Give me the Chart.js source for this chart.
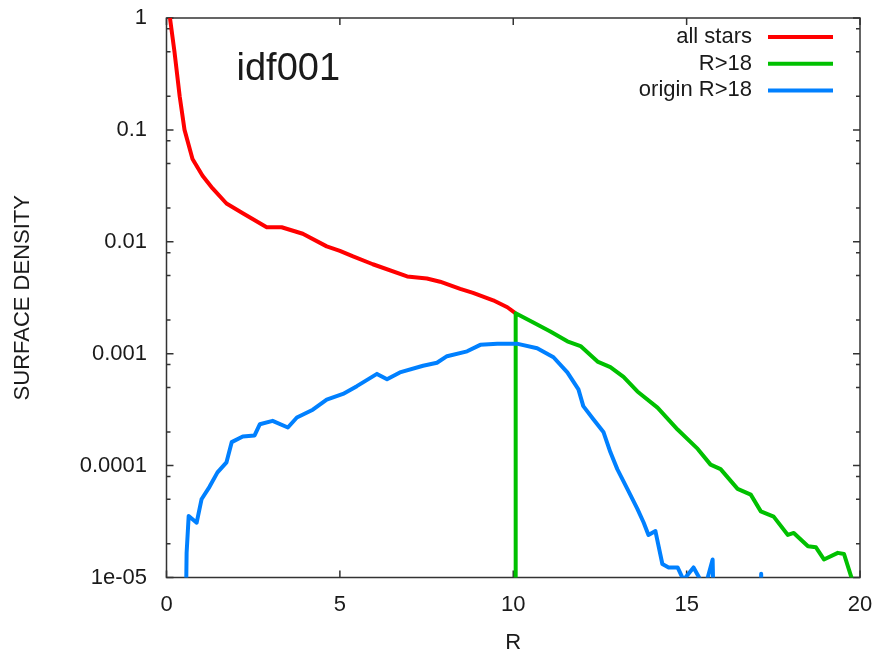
<!DOCTYPE html>
<html>
<head>
<meta charset="utf-8">
<script src="https://cdn.jsdelivr.net/npm/chart.js@4.4.0/dist/chart.umd.min.js"></script>
<style>
  body { margin: 0; background: #fff; }
  #wrap { width: 876px; height: 654px; }
</style>
</head>
<body>
<div id="wrap"><canvas id="c" width="876" height="654"></canvas></div>
<script>
// surface density profiles (R, density)
const radiiAll = [0.1, 0.23, 0.38, 0.52, 0.75, 1.04, 1.33, 1.73, 2.2, 2.89, 3.32, 3.93, 4.62, 5.0, 5.38, 5.95, 6.94, 7.51, 7.89, 8.47, 8.84, 9.42, 9.83, 10.06]
const densAll = [1.0, 0.50, 0.20, 0.10, 0.055, 0.039, 0.030, 0.022, 0.018, 0.0135, 0.0135, 0.0118, 0.0091, 0.0083, 0.0074, 0.0063, 0.0049, 0.0047, 0.0044, 0.0038, 0.0035, 0.0030, 0.0026, 0.0023]

const radiiR18 = [10.06, 10.07, 10.58, 11.07, 11.56, 11.94, 12.43, 12.8, 13.18, 13.58, 14.16, 14.74, 15.32, 15.69, 15.98, 16.47, 16.85, 17.14, 17.51, 17.92, 18.09, 18.5, 18.73, 18.96, 19.36, 19.54, 19.8]
const densR18 = [1e-7, 0.0023, 0.0019, 0.00158, 0.00129, 0.00117, 0.00085, 0.00076, 0.00062, 0.00046, 0.00033, 0.00021, 0.000141, 0.000102, 0.000093, 0.000062, 0.000055, 0.000039, 0.000035, 0.000024, 0.000025, 0.000019, 0.0000186, 0.0000145, 0.0000166, 0.0000162, 0.000009]

const radiiOrigin = [0.49, 0.58, 0.64, 0.87, 1.01, 1.24, 1.47, 1.73, 1.88, 2.2, 2.54, 2.69, 3.06, 3.5, 3.76, 4.22, 4.62, 5.09, 5.49, 6.07, 6.36, 6.73, 7.4, 7.8, 8.09, 8.67, 9.05, 9.54, 10.1, 10.69, 11.16, 11.56, 11.88, 12.02, 12.31, 12.6, 12.8, 13.0, 13.29, 13.58, 13.76, 13.9, 14.1, 14.3, 14.48, 14.74, 14.91, 15.2, 15.4, 15.59, 15.75, 15.9, 16.5, 17.1, 17.15, 17.2]
const densOrigin = [1e-7, 0.0000166, 0.0000355, 0.0000309, 0.000050, 0.0000646, 0.000087, 0.000107, 0.000162, 0.000182, 0.000186, 0.000234, 0.000251, 0.000219, 0.000269, 0.000316, 0.000389, 0.000437, 0.000513, 0.00066, 0.00059, 0.00068, 0.00078, 0.00083, 0.00095, 0.00105, 0.0012, 0.00123, 0.00123, 0.00112, 0.00093, 0.00068, 0.00048, 0.00034, 0.00026, 0.0002, 0.000132, 0.000093, 0.000062, 0.000041, 0.000031, 0.000024, 0.000026, 0.0000132, 0.0000123, 0.0000123, 0.0000095, 0.0000123, 0.0000095, 0.0000095, 0.0000145, 1e-7, null, 1e-7, 0.0000108, 1e-7]

const seriesNames = ['all stars', 'R>18', 'origin R>18']
const seriesColors = ['#ff0000', '#00c000', '#0080ff']

const xTicks = [0, 5, 10, 15, 20]
const yTicks = [1e-5, 1e-4, 1e-3, 1e-2, 0.1, 1]
const yTickLabels = ['1e-05', '0.0001', '0.001', '0.01', '0.1', '1']
const yMinorSteps = [2, 5, 8]

const FONT = '"Liberation Sans", Arial, sans-serif'
const TEXT = '#1a1a1a'

const toPoints = (xs, ys) => xs.map((x, i) => ({ x: x, y: ys[i] }))

const makeSet = (i, xs, ys, order) => ({
    label: seriesNames[i],
    data: toPoints(xs, ys),
    borderColor: seriesColors[i],
    backgroundColor: seriesColors[i],
    borderWidth: 4,
    borderJoinStyle: 'round',
    pointRadius: 0,
    tension: 0,
    spanGaps: false,
    order: order,
    clip: { left: 3, top: 3, right: 3, bottom: 0 },
})

// gnuplot style frame with inward ticks, plus legend and labels
const gnuplotLook = {
    id: 'gnuplotLook',
    beforeDatasetsDraw(chart) {
        const { ctx, chartArea: a, scales } = chart
        const x = scales.x, y = scales.y
        ctx.save()
        ctx.strokeStyle = '#333'
        ctx.lineWidth = 1.5
        ctx.strokeRect(a.left, a.top, a.right - a.left, a.bottom - a.top)
        ctx.beginPath()
        xTicks.forEach(v => {
            let px = x.getPixelForValue(v)
            ctx.moveTo(px, a.bottom); ctx.lineTo(px, a.bottom - 7)
            ctx.moveTo(px, a.top); ctx.lineTo(px, a.top + 7)
        })
        yTicks.forEach(v => {
            let py = y.getPixelForValue(v)
            ctx.moveTo(a.left, py); ctx.lineTo(a.left + 7, py)
            ctx.moveTo(a.right, py); ctx.lineTo(a.right - 7, py)
            if (v >= 1) return
            yMinorSteps.forEach(m => {
                let pm = y.getPixelForValue(v * m)
                ctx.moveTo(a.left, pm); ctx.lineTo(a.left + 4, pm)
                ctx.moveTo(a.right, pm); ctx.lineTo(a.right - 4, pm)
            })
        })
        ctx.stroke()
        ctx.restore()
    },
    afterDraw(chart) {
        const { ctx, chartArea: a } = chart
        ctx.save()
        ctx.fillStyle = TEXT

        // legend, text first then line sample
        ctx.font = '22px ' + FONT
        ctx.textAlign = 'right'
        ctx.textBaseline = 'middle'
        seriesNames.forEach((name, i) => {
            let ly = a.top + 19 + i * 26.7
            ctx.fillText(name, a.right - 108, ly)
            ctx.strokeStyle = seriesColors[i]
            ctx.lineWidth = 4
            ctx.beginPath()
            ctx.moveTo(a.right - 92, ly)
            ctx.lineTo(a.right - 27, ly)
            ctx.stroke()
        })

        // run label
        ctx.font = '38px ' + FONT
        ctx.textAlign = 'left'
        ctx.textBaseline = 'alphabetic'
        ctx.fillText('idf001', a.left + 70, a.top + 62)

        // axis titles
        ctx.font = '22px ' + FONT
        ctx.textAlign = 'center'
        ctx.textBaseline = 'middle'
        ctx.fillText('R', (a.left + a.right) / 2, 643)
        ctx.translate(23, (a.top + a.bottom) / 2)
        ctx.rotate(-Math.PI / 2)
        ctx.fillText('SURFACE DENSITY', 0, 0)
        ctx.restore()
    }
}

new Chart(document.getElementById('c'), {
    type: 'line',
    data: {
        datasets: [
            makeSet(0, radiiAll, densAll, 2),
            makeSet(1, radiiR18, densR18, 1),
            makeSet(2, radiiOrigin, densOrigin, 0),
        ]
    },
    options: {
        responsive: false,
        animation: false,
        devicePixelRatio: 1,
        layout: { padding: { top: 18, right: 16, left: 0, bottom: 0 } },
        plugins: { legend: { display: false }, tooltip: { enabled: false } },
        scales: {
            x: {
                type: 'linear',
                min: 0,
                max: 20,
                grid: { display: false, drawTicks: false },
                border: { display: false },
                afterBuildTicks: (scale) => { scale.ticks = xTicks.map(v => ({ value: v })) },
                afterFit: (scale) => {
                    scale.height = 76.5
                    scale.paddingLeft = 0
                    scale.paddingRight = 0
                },
                ticks: {
                    padding: 14,
                    color: TEXT,
                    font: { family: FONT, size: 22 },
                    maxRotation: 0,
                    callback: (v) => String(v),
                }
            },
            y: {
                type: 'logarithmic',
                min: 1e-5,
                max: 1,
                grid: { display: false, drawTicks: false },
                border: { display: false },
                afterBuildTicks: (scale) => { scale.ticks = yTicks.map(v => ({ value: v })) },
                afterFit: (scale) => {
                    scale.width = 166.5
                    scale.paddingTop = 0
                    scale.paddingBottom = 0
                },
                ticks: {
                    padding: 19.5,
                    color: TEXT,
                    font: { family: FONT, size: 22 },
                    callback: (v) => {
                        let i = yTicks.findIndex(t => Math.abs(Math.log10(t) - Math.log10(v)) < 1e-6)
                        return i < 0 ? '' : yTickLabels[i]
                    }
                }
            }
        }
    },
    plugins: [gnuplotLook]
})
</script>
</body>
</html>
